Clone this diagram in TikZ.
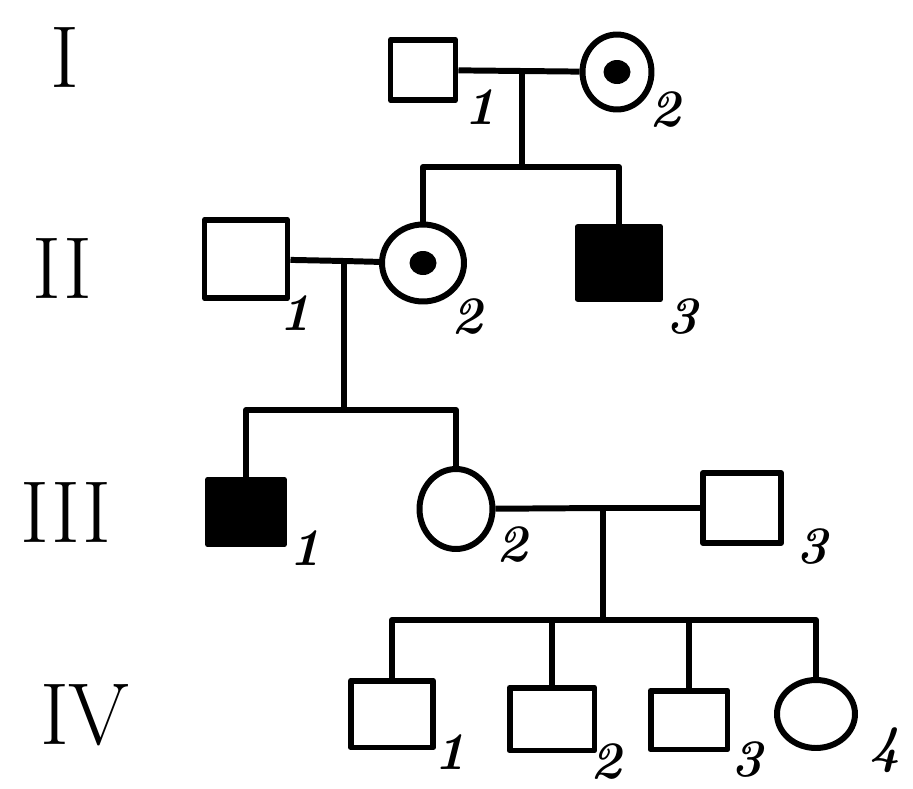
\documentclass[tikz,border=0pt]{standalone}
\usepackage{tikz}
\usetikzlibrary{shapes.geometric,calc}

\begin{document}
\begin{tikzpicture}[
    x=0.02cm, y=-0.02cm,
    line width=3.4pt, line join=round,
    male/.style={rectangle, draw, inner sep=0pt},
    female/.style={ellipse, draw, inner sep=0pt},
    sz/.style 2 args={minimum width=#1cm, minimum height=#2cm},
    affected/.style={fill=black},
    carrier/.style={path picture={\fill (path picture bounding box.center) ellipse (0.27cm and 0.24cm);}},
    num/.style={font=\fontsize{30}{30}\selectfont\bfseries\itshape},
    gen/.style={font=\fontsize{50}{50}\selectfont}
]
    \useasboundingbox (0,0) rectangle (913,788);

    % generation numerals
    \node [gen] (gI) at (65,57) {I};
    \node [gen] (gII) at (62,268) {II};
    \node [gen] (gIII) at (66,512) {III};
    \node [gen] (gIV) at (85,715) {IV};

    % generation I
    \node [male, sz={1.3}{1.2}] (I1) at (423,70) {};
    \node [female, carrier, sz={1.38}{1.5}] (I2) at (617,72) {};
    % generation II
    \node [male, sz={1.66}{1.56}] (II1) at (246,259) {};
    \node [female, carrier, sz={1.64}{1.54}] (II2) at (423,263) {};
    \node [male, affected, sz={1.66}{1.44}] (II3) at (619,263) {};
    % generation III
    \node [male, affected, sz={1.54}{1.28}] (III1) at (246,512) {};
    \node [female, sz={1.46}{1.6}] (III2) at (456,509) {};
    \node [male, sz={1.56}{1.4}] (III3) at (742,508) {};
    % generation IV
    \node [male, sz={1.64}{1.34}] (IV1) at (392,714) {};
    \node [male, sz={1.7}{1.26}] (IV2) at (552,719) {};
    \node [male, sz={1.54}{1.18}] (IV3) at (689,720) {};
    \node [female, sz={1.56}{1.36}] (IV4) at (816,714) {};

    % individual numbers
    \node [num] (nI1) at (480,107) {1};
    \node [num] (nI2) at (665,110) {2};
    \node [num] (nII1) at (295,313) {1};
    \node [num] (nII2) at (467,317) {2};
    \node [num] (nII3) at (682,317) {3};
    \node [num] (nIII1) at (305,548) {1};
    \node [num] (nIII2) at (512,545) {2};
    \node [num] (nIII3) at (812,547) {3};
    \node [num] (nIV1) at (450,752) {1};
    \node [num] (nIV2) at (606,762) {2};
    \node [num] (nIV3) at (747,760) {3};
    \node [num] (nIV4) at (885,750) {4};

    % matings and sibships
    \coordinate (mI) at (522,71);
    \coordinate (sI) at (522,167);
    \coordinate (mII) at (344,261);
    \coordinate (sII) at (344,410);
    \coordinate (mIII) at (603,508);
    \coordinate (sIII) at (603,620);

    \draw (I1) -- (mI) -- (I2);
    \draw (mI) -- (sI);
    \draw (II2) |- (sI) -| (II3);

    \draw (II1) -- (mII) -- (II2);
    \draw (mII) -- (sII);
    \draw (III1) |- (sII) -| (III2);

    \draw (III2) -- (mIII) -- (III3);
    \draw (mIII) -- (sIII);
    \draw (IV1) |- (sIII) -| (IV4);
    \draw (IV2) -- (IV2 |- sIII);
    \draw (IV3) -- (IV3 |- sIII);
\end{tikzpicture}
\end{document}
